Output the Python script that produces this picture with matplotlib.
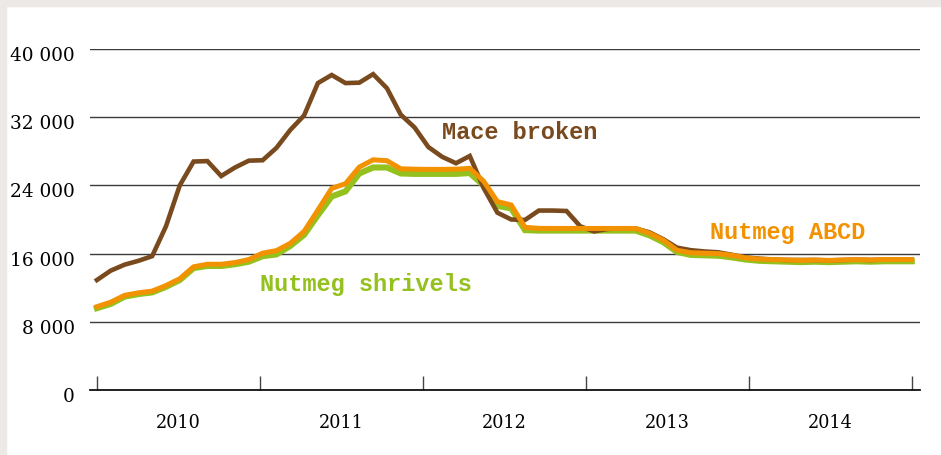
import numpy as np
import matplotlib
matplotlib.use("Agg")
import matplotlib.pyplot as plt
from matplotlib.transforms import ScaledTranslation
from matplotlib.patches import Rectangle

# Monthly prices, Jan 2010 - Dec 2014
mace_broken = [
    12900, 14000, 14700, 15150, 15700, 19200, 24000, 26800, 26850, 25100, 26100, 26900,
    26950, 28400, 30500, 32200, 36000, 36950, 36000, 36050, 37050, 35400, 32300, 30800,
    28500, 27350, 26600, 27450, 23700, 20800, 20000, 19950, 21050, 21050, 21000, 19200,
    18600, 18900, 18950, 18950, 18500, 17700, 16700, 16400, 16250, 16150, 15850, 15550,
    15400, 15300, 15250, 15250, 15250, 15200, 15250, 15300, 15250, 15300, 15300, 15300,
]
nutmeg_abcd = [
    9770, 10300, 11100, 11400, 11600, 12250, 13050, 14450, 14750, 14750, 14950, 15300,
    16050, 16350, 17200, 18600, 21100, 23650, 24200, 26150, 27000, 26900, 25950, 25900,
    25880, 25880, 25900, 26000, 24500, 22100, 21700, 19080, 18960, 18950, 18950, 18950,
    18950, 18950, 18950, 18950, 18400, 17600, 16400, 16100, 16050, 16000, 15800, 15500,
    15350, 15300, 15250, 15200, 15250, 15200, 15250, 15300, 15250, 15300, 15300, 15300,
]
nutmeg_shrivels = [
    9600, 10100, 10950, 11250, 11450, 12100, 12900, 14300, 14550, 14550, 14750, 15050,
    15700, 15900, 16900, 18200, 20500, 22700, 23300, 25400, 26100, 26100, 25400, 25350,
    25350, 25350, 25350, 25450, 24000, 21600, 21300, 18750, 18700, 18700, 18700, 18700,
    18700, 18700, 18700, 18700, 18150, 17350, 16200, 15850, 15800, 15750, 15550, 15300,
    15150, 15100, 15050, 15000, 15050, 15000, 15050, 15100, 15050, 15100, 15100, 15100,
]
years = ['2010', '2011', '2012', '2013', '2014']
yticks = [0, 8000, 16000, 24000, 32000, 40000]
ytick_labels = ['0', '8 000', '16 000', '24 000', '32 000', '40 000']

col_mace = '#7A4A1F'
col_abcd = '#F39200'
col_shriv = '#95C11F'

months = np.arange(len(mace_broken))

fig = plt.figure(figsize=(9.41, 4.55), dpi=100)
# light grey frame on top / left edge
fig.patches.append(Rectangle((0, 0), 6 / 941, 1, transform=fig.transFigure,
                             color='#ECE9E7', zorder=0))
fig.patches.append(Rectangle((0, 1 - 6 / 455), 1, 6 / 455, transform=fig.transFigure,
                             color='#ECE9E7', zorder=0))

ax = fig.add_axes([90 / 941, 65 / 455, 830 / 941, 341 / 455])

ax.plot(months, nutmeg_shrivels, color=col_shriv, linewidth=4.4,
        solid_joinstyle='miter', zorder=3)
ax.plot(months, mace_broken, color=col_mace, linewidth=3.3,
        solid_joinstyle='miter', zorder=4)
ax.plot(months, nutmeg_abcd, color=col_abcd, linewidth=3.6,
        solid_joinstyle='miter', zorder=5)

ax.set_xlim(-0.5, 59.6)
ax.set_ylim(0, 40000)

for s in ['top', 'right', 'left']:
    ax.spines[s].set_visible(False)
ax.spines['bottom'].set_linewidth(1.3)
ax.spines['bottom'].set_color('#111111')

ax.set_yticks(yticks, ytick_labels)
ax.tick_params(axis='y', length=0, pad=11, labelsize=13.3)
ax.grid(axis='y', color='#3a3a3a', linewidth=1.0)
ax.set_axisbelow(True)
offset = ScaledTranslation(0, -5 / 100, fig.dpi_scale_trans)
for lab in ax.get_yticklabels():
    lab.set_fontfamily('DejaVu Serif')
    lab.set_transform(lab.get_transform() + offset)

bounds = np.linspace(0, len(months) - 1, len(years) + 1)
ax.set_xticks(bounds, [''] * len(bounds))
ax.set_xticks((bounds[:-1] + bounds[1:]) / 2, years, minor=True)
ax.tick_params(axis='x', which='major', direction='in', length=10, width=1.0,
               color='#444444')
ax.tick_params(axis='x', which='minor', length=0, pad=17, labelsize=12.7)
for lab in ax.get_xticklabels(minor=True):
    lab.set_fontfamily('DejaVu Serif')

label_font = dict(family='Liberation Mono', fontsize=17, fontweight='bold', va='center')
ax.text(25.0, 30260, 'Mace broken', color=col_mace, **label_font)
ax.text(11.8, 12430, 'Nutmeg shrivels', color=col_shriv, **label_font)
ax.text(44.4, 18420, 'Nutmeg ABCD', color=col_abcd, **label_font)

plt.savefig('out.png', dpi=100)
